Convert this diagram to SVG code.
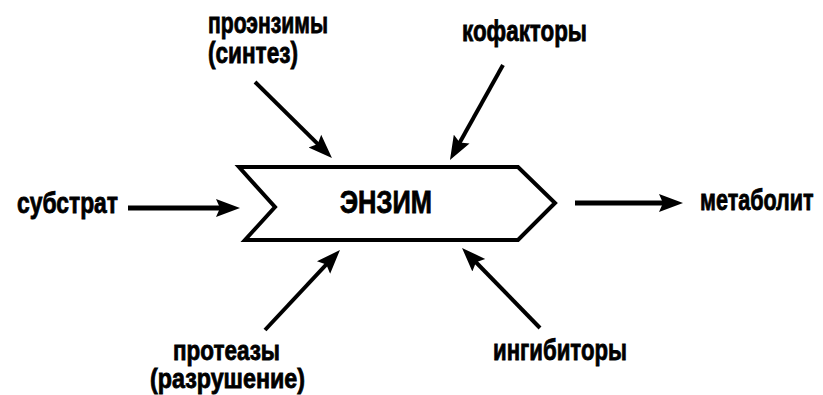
<svg xmlns="http://www.w3.org/2000/svg" width="823" height="395" viewBox="0 0 823 395">
  <style>
    .lbl { font-family: "Liberation Sans", Arial, sans-serif; font-weight: bold; font-size: 29px; fill: #000; stroke: #000; stroke-width: 0.8; }
    .big { font-size: 31px; }
    .sm { font-size: 27px; }
    .wire { fill: none; stroke: #000; stroke-linecap: butt; marker-end: url(#head); }
    .box { fill: #fff; stroke: #000; stroke-width: 4; stroke-linejoin: miter; }
  </style>
  <defs>
    <marker id="head" markerUnits="userSpaceOnUse" markerWidth="26" markerHeight="20" viewBox="0 -10 26 20" refX="10" refY="0" orient="auto">
      <path d="M0,-9 L24,0 L0,9 L4,0 Z" fill="#000"/>
    </marker>
  </defs>
  <rect width="823" height="395" fill="#fff"/>

  <!-- central enzyme block -->
  <g id="enzyme">
    <polygon class="box" points="239,167 518,167 555,203 518,240 245,240 275,207"/>
    <text class="lbl big" x="340" y="213" textLength="92" lengthAdjust="spacingAndGlyphs">ЭНЗИМ</text>
  </g>

  <g id="proenzymes">
    <text class="lbl" x="208" y="33" textLength="120" lengthAdjust="spacingAndGlyphs">проэнзимы</text>
    <text class="lbl" x="208" y="63" textLength="90" lengthAdjust="spacingAndGlyphs">(синтез)</text>
  </g>

  <g id="cofactors">
    <text class="lbl" x="462" y="41" textLength="125" lengthAdjust="spacingAndGlyphs">кофакторы</text>
  </g>

  <g id="substrate">
    <text class="lbl" x="17" y="213" textLength="101" lengthAdjust="spacingAndGlyphs">субстрат</text>
  </g>

  <g id="metabolite">
    <!-- narrowed horizontally so the word stays inside the right edge -->
    <text class="lbl" transform="translate(700,210) scale(0.8,1)" x="0" y="0" textLength="142" lengthAdjust="spacingAndGlyphs">метаболит</text>
  </g>

  <g id="proteases">
    <text class="lbl sm" x="173" y="360" textLength="107" lengthAdjust="spacingAndGlyphs">протеазы</text>
    <text class="lbl sm" x="150" y="388" textLength="155" lengthAdjust="spacingAndGlyphs">(разрушение)</text>
  </g>

  <g id="inhibitors">
    <text class="lbl" x="493" y="360" textLength="134" lengthAdjust="spacingAndGlyphs">ингибиторы</text>
  </g>

  <!-- connectors -->
  <g id="connectors">
    <line class="wire" stroke-width="5" x1="128" y1="208" x2="226" y2="208"/>
    <line class="wire" stroke-width="5" x1="575" y1="203" x2="669" y2="203"/>
    <line class="wire" stroke-width="4" x1="255" y1="82" x2="322" y2="148.2"/>
    <line class="wire" stroke-width="4" x1="503" y1="65" x2="456.8" y2="147.8"/>
    <line class="wire" stroke-width="4" x1="265" y1="330" x2="330.4" y2="260.2"/>
    <line class="wire" stroke-width="4" x1="540" y1="328" x2="471.8" y2="258"/>
  </g>
</svg>
